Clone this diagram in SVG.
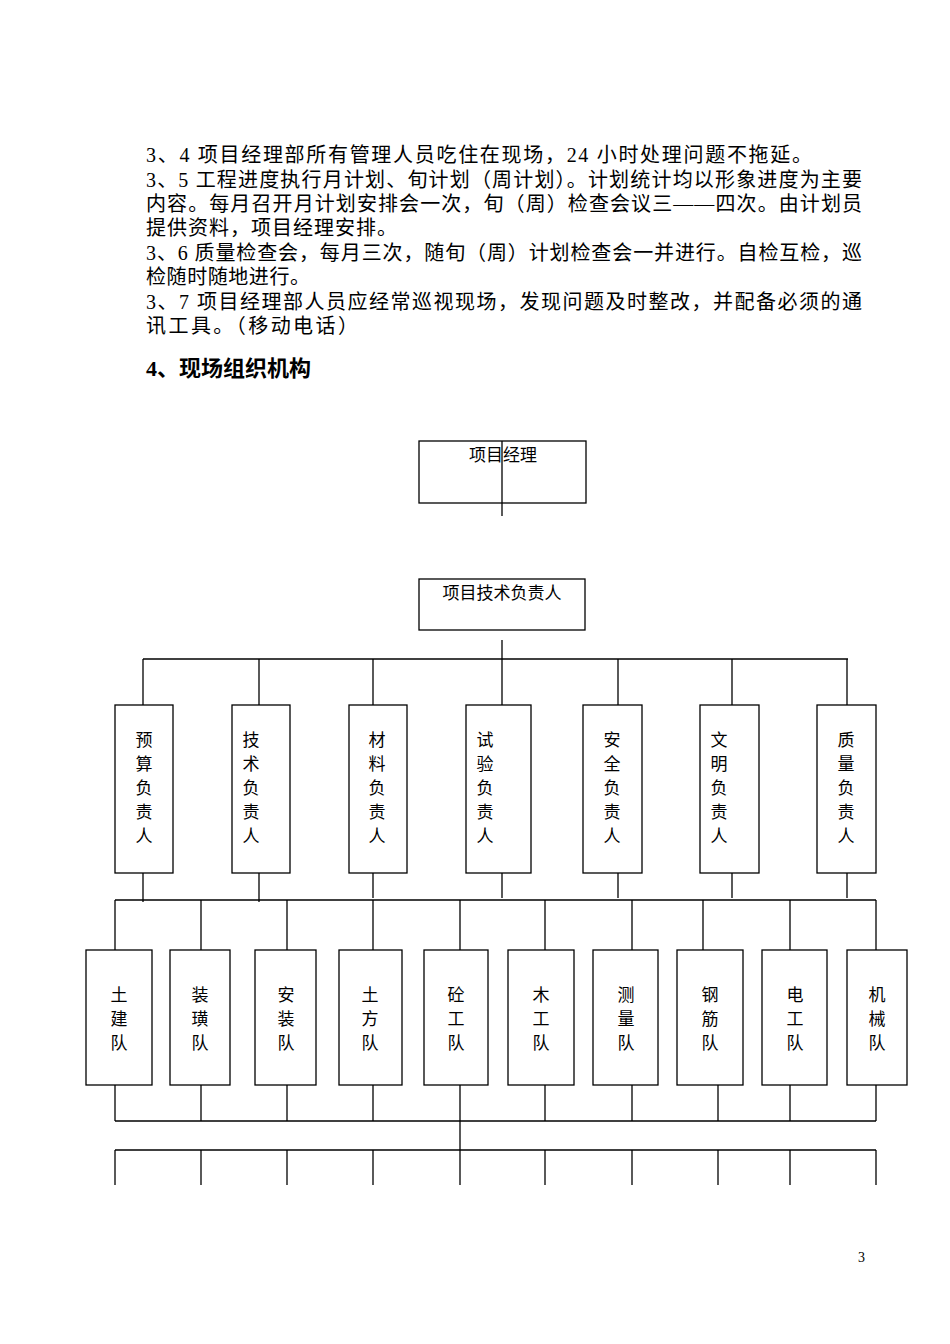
<svg xmlns="http://www.w3.org/2000/svg" width="950" height="1344" viewBox="0 0 950 1344">
<style>
text{font-family:"Liberation Serif","Noto Sans CJK SC",serif;fill:#000}
.p{font-size:20px}
.b{font-size:17px;text-anchor:middle}
.n rect{fill:#fff;stroke:#000;stroke-width:1.3}
.c line{stroke:#000;stroke-width:1.3}
</style>
<rect width="950" height="1344" fill="#fff"/>
<g id="text">
<text class="p" x="146" y="162" textLength="666" lengthAdjust="spacing">3、4 项目经理部所有管理人员吃住在现场，24 小时处理问题不拖延。</text>
<text class="p" x="146" y="187" textLength="716" lengthAdjust="spacing">3、5 工程进度执行月计划、旬计划（周计划）。计划统计均以形象进度为主要</text>
<text class="p" x="146" y="211" textLength="716" lengthAdjust="spacing">内容。每月召开月计划安排会一次，旬（周）检查会议三——四次。由计划员</text>
<text class="p" x="146" y="235" textLength="251" lengthAdjust="spacing">提供资料，项目经理安排。</text>
<text class="p" x="146" y="260" textLength="716" lengthAdjust="spacing">3、6 质量检查会，每月三次，随旬（周）计划检查会一并进行。自检互检，巡</text>
<text class="p" x="146" y="284" textLength="164" lengthAdjust="spacing">检随时随地进行。</text>
<text class="p" x="146" y="309" textLength="716" lengthAdjust="spacing">3、7 项目经理部人员应经常巡视现场，发现问题及时整改，并配备必须的通</text>
<text class="p" x="146" y="333" textLength="212" lengthAdjust="spacing">讯工具。（移动电话）</text>
<text x="146" y="376" style="font-size:22px;font-weight:bold">4、现场组织机构</text>
<text x="858" y="1262" style="font-size:14px">3</text>
</g>
<g class="n">
<g id="pm"><rect x="419" y="441" width="167" height="62"/><text class="b" x="503" y="461">项目经理</text></g>
<g id="tech"><rect x="419" y="579" width="166" height="51"/><text class="b" x="502" y="599">项目技术负责人</text></g>
<g id="m1"><rect x="115" y="705" width="58" height="168"/><text class="b" x="144" y="746">预</text><text class="b" x="144" y="770">算</text><text class="b" x="144" y="794">负</text><text class="b" x="144" y="818">责</text><text class="b" x="144" y="842">人</text></g>
<g id="m2"><rect x="232" y="705" width="58" height="168"/><text class="b" x="251" y="746">技</text><text class="b" x="251" y="770">术</text><text class="b" x="251" y="794">负</text><text class="b" x="251" y="818">责</text><text class="b" x="251" y="842">人</text></g>
<g id="m3"><rect x="349" y="705" width="58" height="168"/><text class="b" x="377" y="746">材</text><text class="b" x="377" y="770">料</text><text class="b" x="377" y="794">负</text><text class="b" x="377" y="818">责</text><text class="b" x="377" y="842">人</text></g>
<g id="m4"><rect x="466" y="705" width="65" height="168"/><text class="b" x="485" y="746">试</text><text class="b" x="485" y="770">验</text><text class="b" x="485" y="794">负</text><text class="b" x="485" y="818">责</text><text class="b" x="485" y="842">人</text></g>
<g id="m5"><rect x="583" y="705" width="59" height="168"/><text class="b" x="612" y="746">安</text><text class="b" x="612" y="770">全</text><text class="b" x="612" y="794">负</text><text class="b" x="612" y="818">责</text><text class="b" x="612" y="842">人</text></g>
<g id="m6"><rect x="700" y="705" width="59" height="168"/><text class="b" x="719" y="746">文</text><text class="b" x="719" y="770">明</text><text class="b" x="719" y="794">负</text><text class="b" x="719" y="818">责</text><text class="b" x="719" y="842">人</text></g>
<g id="m7"><rect x="817" y="705" width="59" height="168"/><text class="b" x="846" y="746">质</text><text class="b" x="846" y="770">量</text><text class="b" x="846" y="794">负</text><text class="b" x="846" y="818">责</text><text class="b" x="846" y="842">人</text></g>
<g id="t1"><rect x="86" y="950" width="66" height="135"/><text class="b" x="119" y="1001">土</text><text class="b" x="119" y="1025">建</text><text class="b" x="119" y="1049">队</text></g>
<g id="t2"><rect x="170" y="950" width="60" height="135"/><text class="b" x="200" y="1001">装</text><text class="b" x="200" y="1025">璜</text><text class="b" x="200" y="1049">队</text></g>
<g id="t3"><rect x="255" y="950" width="61" height="135"/><text class="b" x="286" y="1001">安</text><text class="b" x="286" y="1025">装</text><text class="b" x="286" y="1049">队</text></g>
<g id="t4"><rect x="339" y="950" width="63" height="135"/><text class="b" x="370" y="1001">土</text><text class="b" x="370" y="1025">方</text><text class="b" x="370" y="1049">队</text></g>
<g id="t5"><rect x="424" y="950" width="64" height="135"/><text class="b" x="456" y="1001">砼</text><text class="b" x="456" y="1025">工</text><text class="b" x="456" y="1049">队</text></g>
<g id="t6"><rect x="508" y="950" width="66" height="135"/><text class="b" x="541" y="1001">木</text><text class="b" x="541" y="1025">工</text><text class="b" x="541" y="1049">队</text></g>
<g id="t7"><rect x="593" y="950" width="65" height="135"/><text class="b" x="626" y="1001">测</text><text class="b" x="626" y="1025">量</text><text class="b" x="626" y="1049">队</text></g>
<g id="t8"><rect x="677" y="950" width="66" height="135"/><text class="b" x="710" y="1001">钢</text><text class="b" x="710" y="1025">筋</text><text class="b" x="710" y="1049">队</text></g>
<g id="t9"><rect x="762" y="950" width="65" height="135"/><text class="b" x="795" y="1001">电</text><text class="b" x="795" y="1025">工</text><text class="b" x="795" y="1049">队</text></g>
<g id="t10"><rect x="847" y="950" width="60" height="135"/><text class="b" x="877" y="1001">机</text><text class="b" x="877" y="1025">械</text><text class="b" x="877" y="1049">队</text></g>
</g>
<g class="c" id="connectors">
<line x1="502" y1="441" x2="502" y2="516"/>
<line x1="502" y1="640" x2="502" y2="705"/>
<line x1="143" y1="659" x2="848" y2="659"/>
<line x1="143" y1="659" x2="143" y2="705"/><line x1="259" y1="659" x2="259" y2="705"/><line x1="373" y1="659" x2="373" y2="705"/><line x1="618" y1="659" x2="618" y2="705"/><line x1="732" y1="659" x2="732" y2="705"/><line x1="847" y1="659" x2="847" y2="705"/>
<line x1="143" y1="873" x2="143" y2="902"/><line x1="259" y1="873" x2="259" y2="902"/><line x1="373" y1="873" x2="373" y2="898"/><line x1="502" y1="873" x2="502" y2="898"/><line x1="618" y1="873" x2="618" y2="898"/><line x1="732" y1="873" x2="732" y2="898"/><line x1="847" y1="873" x2="847" y2="898"/>
<line x1="115" y1="900" x2="876" y2="900"/>
<line x1="115" y1="900" x2="115" y2="950"/><line x1="201" y1="900" x2="201" y2="950"/><line x1="287" y1="900" x2="287" y2="950"/><line x1="373" y1="900" x2="373" y2="950"/><line x1="460" y1="900" x2="460" y2="950"/><line x1="545" y1="900" x2="545" y2="950"/><line x1="632" y1="900" x2="632" y2="950"/><line x1="703" y1="900" x2="703" y2="950"/><line x1="790" y1="900" x2="790" y2="950"/><line x1="876" y1="900" x2="876" y2="950"/>
<line x1="115" y1="1085" x2="115" y2="1121"/><line x1="201" y1="1085" x2="201" y2="1121"/><line x1="287" y1="1085" x2="287" y2="1121"/><line x1="373" y1="1085" x2="373" y2="1121"/><line x1="545" y1="1085" x2="545" y2="1121"/><line x1="632" y1="1085" x2="632" y2="1121"/><line x1="718" y1="1085" x2="718" y2="1121"/><line x1="790" y1="1085" x2="790" y2="1121"/><line x1="876" y1="1085" x2="876" y2="1121"/>
<line x1="115" y1="1121" x2="876" y2="1121"/>
<line x1="460" y1="1085" x2="460" y2="1185"/>
<line x1="115" y1="1150" x2="876" y2="1150"/>
<line x1="115" y1="1150" x2="115" y2="1185"/><line x1="201" y1="1150" x2="201" y2="1185"/><line x1="287" y1="1150" x2="287" y2="1185"/><line x1="373" y1="1150" x2="373" y2="1185"/><line x1="545" y1="1150" x2="545" y2="1185"/><line x1="632" y1="1150" x2="632" y2="1185"/><line x1="718" y1="1150" x2="718" y2="1185"/><line x1="790" y1="1150" x2="790" y2="1185"/><line x1="876" y1="1150" x2="876" y2="1185"/>
</g>
</svg>
